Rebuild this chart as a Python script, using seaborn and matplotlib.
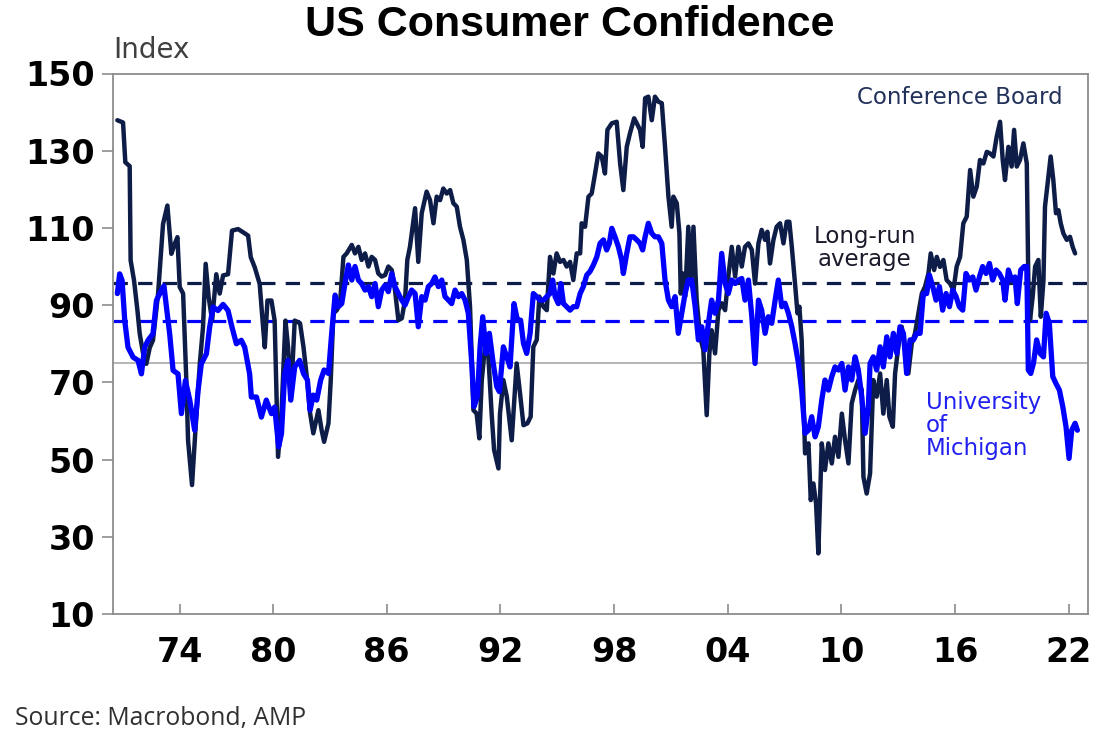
import numpy as np
import pandas as pd
import matplotlib
matplotlib.use("Agg")
import matplotlib.pyplot as plt
import seaborn as sns

# ---------------- data ----------------
cb_year = [1971.79,1972.09,1972.21,1972.44,1972.49,1972.67,1972.85,1972.97,1973.15,1973.32,1973.50,1973.67,1973.94,
           1974.20,1974.43,1974.64,1974.82,1974.96,1975.08,1975.26,1975.43,1975.52,1975.73,1975.91,1976.14,1976.31,
           1976.45,1976.61,1976.79,1977.01,1977.19,1977.37,1977.63,1977.84,1978.16,1978.42,1978.69,1978.83,1979.04,
           1979.30,1979.48,1979.57,1979.71,1979.92,1980.09,1980.27,1980.45,1980.66,1980.80,1980.94,1981.15,
           1981.43,1981.61,1981.82,1981.96,1982.13,1982.40,1982.57,1982.70,1982.93,1983.05,1983.19,1983.37,1983.54,
           1983.72,1983.89,1984.16,1984.33,1984.51,1984.68,1984.86,1985.04,1985.21,1985.39,1985.56,1985.74,1985.92,
           1986.09,1986.27,1986.44,1986.62,1986.80,1986.97,1987.09,1987.23,1987.50,1987.67,1987.85,1988.11,1988.29,
           1988.47,1988.64,1988.82,1988.99,1989.17,1989.35,1989.52,1989.70,1989.87,1990.05,1990.23,1990.40,1990.58,
           1990.75,1990.89,1991.02,1991.19,1991.37,1991.54,1991.67,1991.90,
           1991.98,1992.16,1992.34,1992.60,1992.86,1993.04,1993.22,1993.43,1993.60,1993.74,1993.92,1994.06,1994.27,
           1994.45,1994.62,1994.80,1994.97,1995.15,1995.33,1995.50,1995.68,1995.85,1996.03,1996.21,1996.29,1996.47,
           1996.65,1996.82,1997.00,1997.17,1997.35,1997.52,1997.65,1997.88,1998.14,1998.32,1998.49,1998.67,1998.84,
           1999.06,1999.20,1999.37,1999.51,1999.64,1999.81,1999.99,2000.16,2000.34,2000.52,2000.69,2000.87,2001.04,
           2001.13,2001.31,2001.45,2001.52,2001.62,2001.75,2001.92,
           2002.05,2002.19,2002.36,2002.54,2002.71,2002.89,2003.03,2003.15,2003.33,2003.51,2003.68,2003.86,2004.03,
           2004.21,2004.39,2004.56,2004.74,2004.91,2005.09,2005.27,2005.44,2005.62,2005.79,2005.97,2006.09,2006.23,
           2006.41,2006.58,2006.76,2006.94,2007.11,2007.25,2007.38,2007.55,2007.68,2007.78,2007.90,2008.08,2008.26,
           2008.38,2008.52,2008.66,2008.78,2008.96,2009.13,2009.31,2009.49,2009.66,2009.84,2010.02,2010.19,2010.37,
           2010.54,2010.72,2010.89,2011.07,2011.16,2011.33,
           2011.51,2011.68,2011.86,2012.04,2012.21,2012.39,2012.53,2012.71,2012.83,2013.00,2013.18,2013.36,2013.53,
           2013.71,2013.88,2014.06,2014.24,2014.41,2014.59,2014.71,2014.89,2015.03,2015.20,2015.38,2015.55,2015.73,
           2015.91,2016.08,2016.26,2016.43,2016.61,2016.79,2016.96,2017.14,2017.31,2017.49,2017.67,2017.84,2018.02,
           2018.19,2018.37,2018.51,2018.63,2018.81,2018.98,2019.11,2019.25,2019.42,2019.60,2019.78,2019.86,2019.95,
           2020.09,2020.22,2020.39,2020.52,2020.66,2020.74,2020.92,2021.04,2021.18,2021.32,2021.45,2021.57,2021.71,
           2021.89,2022.06,2022.20,2022.33]
cb_value = [137.9,137.3,127,126,101.6,96.4,88.6,82.6,77.4,74.8,79,80.9,93,
            111,115.8,103.3,105.9,107.6,94.7,93,70.5,55,43.4,57.6,74.8,84.3,
            100.7,92,86,98,93,97.7,98,109.3,109.7,108.9,108,102.4,99.8,
            95.5,84.3,79.1,91.2,91.2,86,50.7,61.9,86,79,65.4,86,
            85.3,79.2,70,62,56.8,62.8,57.6,54.6,59.4,70.6,87.9,88.7,90.4,
            102.5,103.4,105.6,103.4,105.1,101.7,103.4,100,102.5,101.7,98.2,97.4,97.8,
            100,99.1,93.9,86.1,86.6,91.3,101.7,105.1,115.1,101.2,113.8,119.4,117.2,
            111.2,118.1,117.2,120.2,118.9,119.8,116.4,115.5,110.3,106.9,101.7,89.6,62.8,
            61.9,55.5,70.6,79.2,76.6,61.9,52.5,47.7,
            61.9,70.6,66.3,55,74.9,67.1,58.9,59.4,61.1,79.2,81,92.2,89.6,
            88.7,102.5,98.2,103.4,101.2,101.7,100,101.2,96.5,103.4,103.4,111.2,110.3,
            118.1,118.9,124.1,129.3,128.5,124.1,135.4,137.1,137.5,126.7,119.8,131,134.5,
            138.4,137.1,135.4,131,143.6,144,137.9,144,142.7,142.3,131,118.1,110.3,
            118.1,116.4,108.6,93,98.2,92.2,110.3,
            95.6,110.3,91.3,81.8,78.4,61.5,77.5,83.5,77.5,88.7,90.5,88.7,97.4,
            105.1,97.4,105.1,100,105.1,106,104.3,95.6,106,109.5,106.9,109,100.8,
            106.9,110.3,111.2,106,111.6,111.6,105.1,95.6,87.9,89.6,81,51.6,54.2,
            39.5,43.8,38.6,25.7,54.2,47.3,54.2,49,55.9,50.7,61.9,55,49,
            64.5,68,70.6,68,45.5,41.2,
            46.4,70.6,66.3,72.3,61.9,70.6,61.1,58.5,72.3,79.2,84.4,79.2,72.3,
            80.1,82.7,87.9,93,94.8,98.2,103.4,99.1,102.5,99.9,101.7,96.5,95.6,
            93.9,100,102.5,111.2,112.9,125,118.1,120.7,127.6,126.7,129.7,129.3,128.5,
            133.6,137.5,127.6,122.4,131,125.9,135.4,125.9,127.6,131.9,126.7,96.5,86.1,
            92.2,100,101.7,87,96.5,115.5,123.3,128.5,122.4,113.8,114.6,111.2,108.6,
            106.9,107.7,105.1,103.4]

um_year = [1971.79,1971.91,1972.04,1972.18,1972.35,1972.62,1972.88,1973.06,1973.23,1973.41,1973.67,1973.85,1974.11,
           1974.25,1974.38,1974.55,1974.73,1974.99,1975.17,1975.38,1975.61,1975.87,1976.05,1976.22,1976.49,1976.66,
           1976.84,1977.10,1977.37,1977.63,1977.84,1978.07,1978.33,1978.51,1978.77,1978.86,1979.13,1979.39,1979.65,
           1979.92,1980.09,1980.30,1980.45,1980.62,1980.80,1980.94,1981.15,1981.41,
           1981.61,1981.82,1981.96,1982.13,1982.31,1982.52,1982.70,1982.93,1983.10,1983.28,1983.45,1983.63,1983.80,
           1983.98,1984.16,1984.33,1984.51,1984.68,1984.86,1985.04,1985.21,1985.39,1985.56,1985.74,1985.92,1986.09,
           1986.27,1986.44,1986.62,1986.80,1986.97,1987.15,1987.32,1987.50,1987.67,1987.85,1988.03,1988.20,1988.38,
           1988.55,1988.73,1988.91,1989.08,1989.26,1989.43,1989.61,1989.79,1989.96,1990.14,1990.31,1990.49,1990.61,
           1990.79,1990.93,1991.07,1991.25,1991.42,1991.60,1991.81,1991.95,
           1992.16,1992.34,1992.51,1992.72,1992.90,1993.07,1993.22,1993.39,1993.57,1993.74,1993.92,1994.09,1994.27,
           1994.45,1994.62,1994.76,1994.89,1995.06,1995.19,1995.33,1995.50,1995.68,1995.85,1996.03,1996.21,1996.38,
           1996.56,1996.73,1996.91,1997.09,1997.26,1997.44,1997.61,1997.75,1997.88,1998.05,1998.23,1998.40,1998.49,
           1998.67,1998.84,1999.02,1999.20,1999.37,1999.51,1999.64,1999.81,1999.99,2000.16,2000.34,2000.52,2000.69,
           2000.87,2001.04,2001.22,2001.39,2001.57,2001.75,2001.92,
           2002.10,2002.28,2002.45,2002.63,2002.80,2002.98,2003.15,2003.33,2003.51,2003.68,2003.86,2004.03,2004.21,
           2004.39,2004.56,2004.74,2004.91,2005.09,2005.27,2005.44,2005.62,2005.79,2005.97,2006.14,2006.32,2006.50,
           2006.67,2006.85,2007.02,2007.20,2007.38,2007.55,2007.73,2007.90,2008.08,2008.26,2008.43,2008.61,2008.78,
           2008.96,2009.13,2009.31,2009.49,2009.66,2009.84,2010.02,2010.19,2010.37,2010.54,2010.72,2010.89,2011.07,
           2011.25,2011.42,
           2011.51,2011.68,2011.86,2012.04,2012.21,2012.39,2012.56,2012.74,2012.92,2013.09,2013.27,2013.44,2013.62,
           2013.80,2013.97,2014.15,2014.32,2014.50,2014.64,2014.82,2014.99,2015.17,2015.34,2015.52,2015.70,2015.87,
           2016.05,2016.22,2016.40,2016.57,2016.75,2016.93,2017.10,2017.28,2017.45,2017.63,2017.81,2017.98,2018.16,
           2018.33,2018.51,2018.63,2018.81,2018.98,2019.16,2019.28,2019.46,2019.64,2019.78,2019.86,2019.99,2020.13,
           2020.30,2020.48,2020.66,2020.80,2020.97,2021.15,2021.32,2021.50,2021.68,2021.85,2022.01,2022.15,2022.33,
           2022.45]
um_value = [93,98.1,96.4,86,79.1,76.5,75.7,72.2,79.1,80.9,82.6,91.2,93.8,
            95,89.5,82.6,73.1,72.2,61.9,70.5,65.4,57.6,67.9,74.8,77.4,84.3,
            89.5,88.6,90.2,88.6,84.3,80,80.9,79.1,72.2,66.2,66.2,61,65.4,
            61.9,63.6,53.3,56.7,72.2,75.7,65.4,74,75.7,
            72.3,70.6,62.8,66.7,65.4,70.6,73.2,72.3,82.7,92.6,89.6,90.4,95.6,
            100.4,96.5,100,96.5,95.6,93.9,94.8,92.2,95.6,89.6,93.9,95.2,93.5,
            98.2,94.8,93,91.3,90,92.2,93.9,93,84.4,92.2,91.3,94.8,95.6,
            97.3,94.8,96.5,92.2,91.3,90.4,93.9,92.2,93,91.3,87.9,74.9,63.7,
            66.3,79.2,87,77.5,82.7,75.8,68.9,67.6,
            79.2,76.6,74,90.4,86.1,86.1,80.1,77.5,82.7,93,92.2,91.3,91.3,
            92.2,93,96.5,92.2,90.4,95.6,90.4,89.6,88.7,89.6,89.6,93,94.8,
            97.8,98.7,100.4,102.5,106,106.9,104.3,106,109.9,107.7,105.1,101.7,98.2,
            103.4,107.7,107.7,106.9,106,104.3,107.7,111.2,108.6,107.7,107.7,106,96.5,
            91.3,89.6,92.2,82.7,87.9,93,96.5,
            96.5,89.6,81,84.4,78.4,85.3,91.3,87.9,91.3,103.4,95.6,93,96.5,
            95.6,96.5,96.9,91.3,96.5,87,74.9,91.3,88.7,82.7,87,85.3,91.3,
            96.5,89.6,90.5,87.9,84.4,80.1,74.9,68,56.8,57.6,61.1,55.9,58.5,
            65.4,70.6,68,71.5,74,73.2,74.9,68,74,70.6,76.6,73.2,66.3,
            56.8,63.7,
            74.9,76.6,73.2,79.2,74,81.8,76.6,82.7,77.5,84.4,82.7,72.3,81,
            81,82.7,82.7,93,93,97.8,94.8,91.3,94.8,88.7,93,89.6,93.9,
            92.2,89.6,88.7,98.2,96.5,97.3,93.9,97.3,100,98.2,100.8,96.5,99.1,
            98.2,96.5,91.3,99.1,96.5,97.3,90.4,99.1,100,100,73.2,72.3,74.9,
            81,77.5,76.6,87.9,85.3,71.5,69.7,68,63.7,58.5,50.3,57.6,59.4,
            57.6]

cb_avg = 95.7
um_avg = 86.0
ref_level = 75

tick_years = [1975.1, 1980, 1986, 1992, 1998, 2004, 2010, 2016, 2022]
tick_labels = ["74", "80", "86", "92", "98", "04", "10", "16", "22"]
y_ticks = list(range(10, 151, 20))

# ---------------- style ----------------
sns.set_theme(style="white")
plt.rcParams["font.family"] = ["DejaVu Sans"]

NAVY = "#0e1d48"
BLUE = "#0000ff"
SPINE = "#8c8c8c"

fig = plt.figure(figsize=(11.13, 7.53), dpi=100)
ax = fig.add_axes([113 / 1113, 1 - 614 / 753, (1088 - 113) / 1113, (614 - 73.5) / 753])

# reference lines
ax.axhline(ref_level, color="#a9a9a9", lw=1.2, zorder=1)
ax.axhline(cb_avg, color=NAVY, lw=2.3, dashes=(4.5, 3.2), zorder=2)
ax.axhline(um_avg, color=BLUE, lw=2.3, dashes=(4.5, 3.2), zorder=2)

cb_df = pd.DataFrame({"year": cb_year, "value": cb_value})
um_df = pd.DataFrame({"year": um_year, "value": um_value})
sns.lineplot(data=cb_df, x="year", y="value", ax=ax, color=NAVY, lw=3.2,
             estimator=None, sort=False, zorder=3)
sns.lineplot(data=um_df, x="year", y="value", ax=ax, color=BLUE, lw=3.8,
             estimator=None, sort=False, zorder=4)

ax.set_xlim(1971.56, 2023.01)
ax.set_ylim(10, 150)
ax.set_xticks(tick_years)
ax.set_xticklabels(tick_labels)
ax.set_yticks(y_ticks)
ax.set_xlabel("")
ax.set_ylabel("")

for s in ax.spines.values():
    s.set_visible(True)
    s.set_color(SPINE)
    s.set_linewidth(1.3)

ax.tick_params(axis="y", direction="out", length=8, width=1.2, color=SPINE, pad=5,
               labelsize=24, left=True)
ax.tick_params(axis="x", direction="in", length=7, width=1.2, color=SPINE, pad=16,
               labelsize=24, bottom=True)
for lab in ax.get_xticklabels() + ax.get_yticklabels():
    lab.set_fontweight("bold")
    lab.set_color("black")

# annotations
ax.text(2016.26, 143.7, "Conference Board", color="#22315a", fontsize=16.5,
        ha="center", va="center")
ax.text(2011.24, 104.9, "Long-run\naverage", color="#1a1a2a", fontsize=16.5,
        ha="center", va="center", linespacing=1.0)
ax.text(2014.46, 58.7, "University\nof\nMichigan", color="#2020f0", fontsize=16.5,
        ha="left", va="center", linespacing=1.0)

# title, unit label and source
fig.text(570 / 1113, 1 - 25 / 753, "US Consumer Confidence", fontsize=31,
         fontweight="bold", ha="center", va="center", color="black",
         family=["Liberation Sans", "DejaVu Sans"])
fig.text(113 / 1113, 1 - 50 / 753, "Index", fontsize=20, ha="left", va="center",
         color="#404040", family=["DejaVu Sans"])
fig.text(15 / 1113, 1 - 718 / 753, "Source: Macrobond, AMP", fontsize=17.8,
         ha="left", va="center", color="#303030", family=["Open Sans", "DejaVu Sans"])

fig.savefig("out.png", dpi=100)
